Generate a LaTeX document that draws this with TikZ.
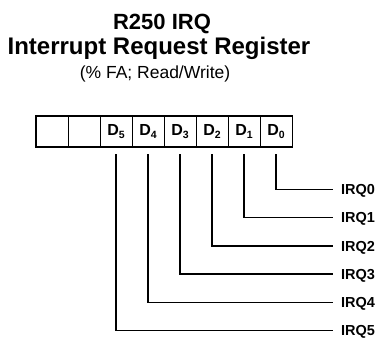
\documentclass[tikz,border=0pt]{standalone}
\usepackage{fontspec}
\setmainfont{Liberation Sans}
\usetikzlibrary{positioning,calc}

\newcommand{\bitname}[1]{D\raisebox{-3pt}{\fontsize{10.5}{10.5}\selectfont #1}}

\tikzset{
  regcell/.style={draw, line width=0.7pt, minimum width=32pt, minimum height=31pt,
    inner sep=0pt, font=\fontsize{16}{16}\selectfont\bfseries},
  wire/.style={line width=1.5pt},
  irqlabel/.style={anchor=west, inner sep=0pt, font=\fontsize{14.5}{14.5}\selectfont\bfseries},
}

\begin{document}
\begin{tikzpicture}[x=1pt,y=-1pt]
  \useasboundingbox (0,0) rectangle (380,339);
  % title
  \node[anchor=base, font=\fontsize{22}{22}\selectfont\bfseries] (title) at (162,30) {R250 IRQ};
  \node[anchor=base, font=\fontsize{24}{24}\selectfont\bfseries] (subtitle) at (159,55) {Interrupt Request Register};
  \node[anchor=base, font=\fontsize{17.5}{17.5}\selectfont] (access) at (155,79) {(\% FA; Read/Write)};

  % register cells, bit 7 on the left
  \foreach \b in {7,...,0}{
    \pgfmathtruncatemacro{\col}{7-\b}
    \ifnum\b<6
      \node[regcell] (d\b) at (52+32*\col,131.5) {\bitname{\b}};
    \else
      \node[regcell] (d\b) at (52+32*\col,131.5) {};
    \fi
  }
  \draw[line width=1.7pt] (d7.north west) rectangle (d0.south east);

  % request lines
  \foreach \b in {0,...,5}{
    \node[irqlabel] (irq\b) at (341,191+28.2*\b) {IRQ\b};
    \draw[wire] ([yshift=-7pt]d\b.south) |- ([xshift=-8pt,yshift=1.5pt]irq\b.west);
  }
\end{tikzpicture}
\end{document}
